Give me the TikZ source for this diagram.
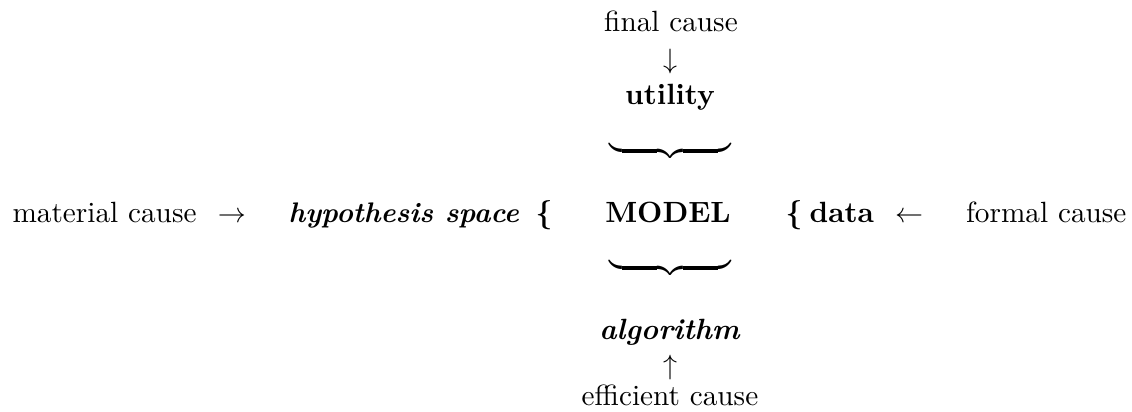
\documentclass[tikz,border=0pt]{standalone}
\usepackage{amsmath}
\begin{document}
\begin{tikzpicture}[x=0.357pt,y=-0.357pt,
  every node/.style={font=\fontsize{10.45}{12.5}\selectfont},
  lbl/.style={inner sep=0pt,anchor=base},
  brc/.style={inner sep=0pt,anchor=center}]
\useasboundingbox (0,0) rectangle (1132,411);
% top column
\node[lbl] (final) at (671,31) {final cause};
\node[lbl] (darr) at (670,68) {$\downarrow$};
\node[lbl] (util) at (670,104) {\textbf{utility}};
\node[brc] (brc1) at (670,151) {$\underbrace{\hbox to 43.5pt{}}$};
% main row
\node[lbl,anchor=base west] (mat) at (12,222) {material cause};
\node[lbl] (rarr) at (232,222) {$\rightarrow$};
\node[lbl,anchor=base west,font=\fontsize{10.1}{12}\selectfont] (hyp) at (288,222) {\textbf{\textit{hypothesis space}}};
\node[lbl] (lb1) at (544,222) {\textbf{\{}};
\node[lbl] (model) at (668,222) {\textbf{MODEL}};
\node[lbl] (lb2) at (794,222) {\textbf{\{}};
\node[lbl,anchor=base west] (data) at (809,222) {\textbf{data}};
\node[lbl] (larr) at (909,222) {$\leftarrow$};
\node[lbl,anchor=base east] (formal) at (1127,222) {formal cause};
% bottom column
\node[brc] (brc2) at (670,268) {$\underbrace{\hbox to 43.5pt{}}$};
\node[lbl] (alg) at (670,339) {\textbf{\textit{algorithm}}};
\node[lbl] (uarr) at (670,374) {$\uparrow$};
\node[lbl] (eff) at (670,405) {efficient cause};
\end{tikzpicture}
\end{document}
